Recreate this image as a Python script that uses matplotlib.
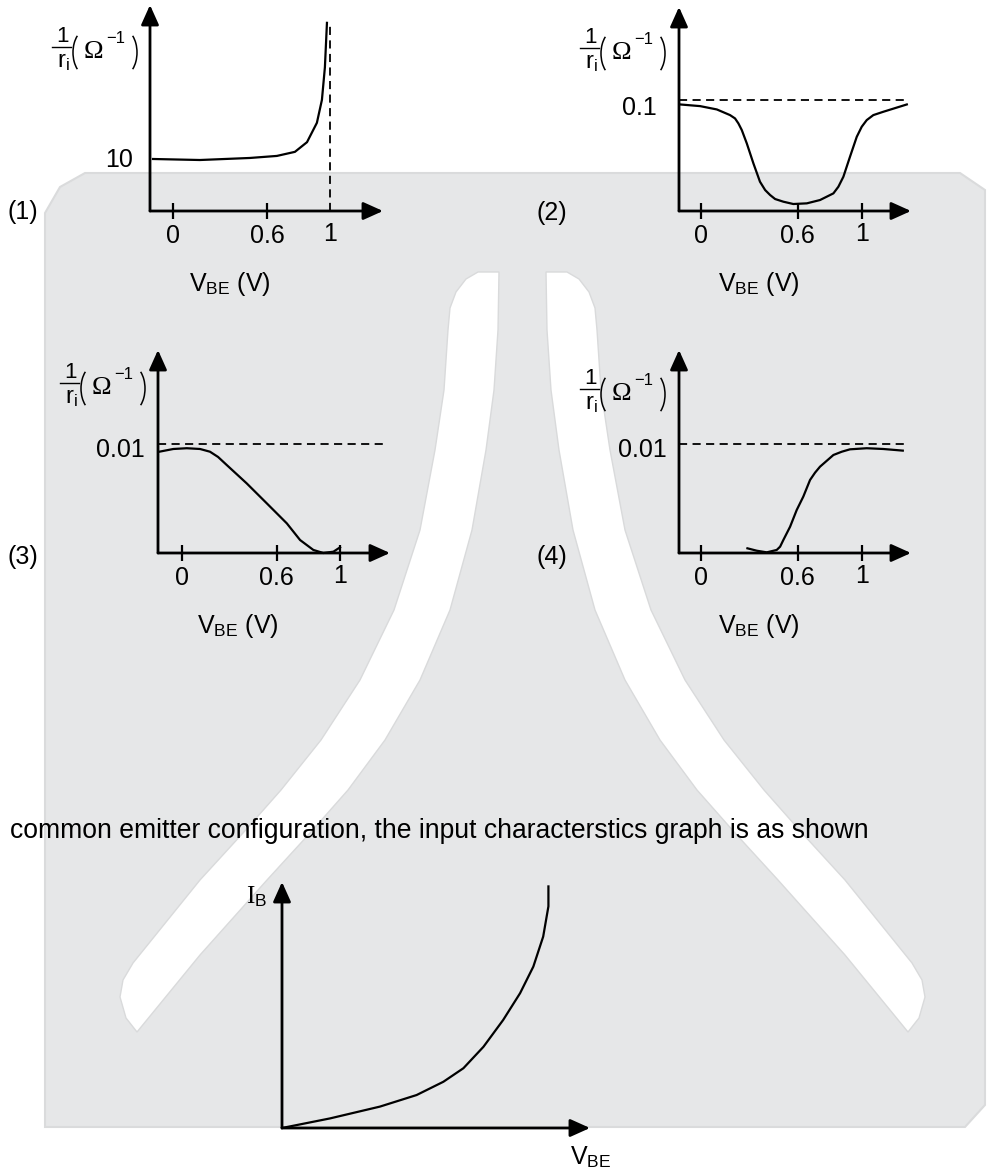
import numpy as np
import matplotlib
matplotlib.use('Agg')
import matplotlib.pyplot as plt
from matplotlib.patches import Polygon, Arc

plt.rcParams['font.family'] = ['Liberation Sans', 'DejaVu Sans']
plt.rcParams['mathtext.fontset'] = 'custom'
plt.rcParams['mathtext.rm'] = 'Liberation Serif'
plt.rcParams['mathtext.sf'] = 'Liberation Sans'
plt.rcParams['mathtext.it'] = 'Liberation Serif:italic'

# ---- values ----
# (1) 1/ri vs VBE, rises sharply towards 1 V
v1 = [-0.127, 0.172, 0.49, 0.662, 0.777, 0.854, 0.917, 0.949, 0.968, 0.981]
g1 = [10.2, 10.0, 10.4, 10.8, 11.6, 13.5, 17.3, 21.8, 28.2, 36.9]
# (2) dip to ~0 around 0.6 V
v2 = [-0.130, -0.006, 0.098, 0.180, 0.211, 0.232, 0.253, 0.284, 0.325, 0.366,
      0.398, 0.429, 0.460, 0.511, 0.573, 0.657, 0.739, 0.822, 0.853, 0.884,
      0.925, 0.967, 0.998, 1.029, 1.070, 1.132, 1.278]
g2 = [0.0961, 0.0946, 0.0916, 0.0865, 0.0835, 0.079, 0.073, 0.061, 0.043, 0.0264,
      0.0189, 0.0144, 0.0108, 0.0084, 0.0063, 0.0069, 0.0099, 0.0159, 0.0219, 0.0309,
      0.0489, 0.0669, 0.076, 0.082, 0.0865, 0.0895, 0.0961]
# (3) falls from 0.01 to 0
v3 = [-0.144, -0.055, 0.030, 0.114, 0.177, 0.228, 0.283, 0.409, 0.536, 0.663,
      0.747, 0.831, 0.894, 0.958, 1.0]
g3 = [0.00929, 0.00954, 0.00961, 0.00954, 0.00929, 0.00881, 0.00807, 0.00639,
      0.00456, 0.00272, 0.00119, 0.00028, 0.0, 0.00012, 0.00052]
# (4) rises from 0 to 0.01
v4 = [0.288, 0.346, 0.408, 0.470, 0.491, 0.511, 0.553, 0.594, 0.635, 0.677,
      0.708, 0.739, 0.822, 0.874, 0.925, 1.029, 1.132, 1.253]
g4 = [0.00043, 0.00021, 0.00006, 0.00028, 0.00058, 0.00119, 0.00241, 0.00394,
      0.00517, 0.0067, 0.00737, 0.00792, 0.00899, 0.00929, 0.00951, 0.00961,
      0.00954, 0.00939]
# input characteristic IB vs VBE (arbitrary units)
vbe = [0.0, 0.156, 0.318, 0.437, 0.524, 0.589, 0.654, 0.718, 0.773, 0.816,
       0.848, 0.865, 0.865]
ib = [0.0, 0.039, 0.087, 0.134, 0.188, 0.243, 0.330, 0.439, 0.548, 0.656,
      0.778, 0.901, 0.982]

levels = [10, 0.1, 0.01, 0.01]
level_labels = ['10', '0.1', '0.01', '0.01']
tick_v = [0, 0.6, 1]
tick_labels = ['0', '0.6', '1']
caption = 'common emitter configuration, the input characterstics graph is as shown'

W, H = 990, 1173
fig = plt.figure(figsize=(W / 100, H / 100), dpi=100)

# background watermark (pixel coordinates, y down)
bg = fig.add_axes([0, 0, 1, 1])
bg.set_xlim(0, W)
bg.set_ylim(H, 0)
bg.axis('off')
grey = [(85, 173), (960, 173), (985, 190), (985, 1105), (965, 1127),
        (45, 1127), (45, 213), (60, 187)]
bg.add_patch(Polygon(grey, closed=True, fc='#e6e7e8', ec='#dadbdc', lw=1.5))
stripe = [(478, 272), (499, 272), (498, 330), (494, 390), (486, 450), (472, 530),
          (450, 610), (420, 680), (385, 740), (348, 790), (310, 833), (267, 880),
          (200, 955), (137, 1032), (126, 1018), (120, 997), (123, 980), (133, 963),
          (200, 880), (243, 833), (281, 790), (321, 740), (360, 680), (394, 610),
          (420, 530), (435, 450), (444, 390), (448, 330), (450, 308), (456, 292),
          (466, 279)]
bg.add_patch(Polygon(stripe, closed=True, fc='white', ec='#d9dadb', lw=1))
bg.add_patch(Polygon([(1045 - x, y) for x, y in stripe], closed=True,
                     fc='white', ec='#d9dadb', lw=1))

FS = 18


def ylabel(xr, yb):
    # 1/ri (Ohm^-1), xr = right edge, yb = fraction bar
    bg.text(xr - 75, yb - 5, '1', ha='center', va='baseline', fontsize=16)
    bg.plot([xr - 85, xr - 66], [yb, yb], color='black', lw=1)
    bg.text(xr - 74, yb + 21, r'r$_{\mathsf{i}}$', ha='center', va='baseline',
            fontsize=17)
    bg.add_patch(Arc((xr - 50, yb + 5.5), 28, 46, theta1=120, theta2=240,
                     color='black', lw=1.1))
    bg.text(xr - 44, yb + 11, '\u03a9', ha='center', va='baseline', fontsize=19,
            family='Liberation Serif')
    bg.text(xr - 21, yb - 4, '\u22121', ha='center', va='baseline', fontsize=12)
    bg.add_patch(Arc((xr - 14, yb + 5.5), 28, 46, theta1=-60, theta2=60,
                     color='black', lw=1.1))


def px_axes(left, right, bottom, top):
    ax = fig.add_axes([left / W, 1 - bottom / H, (right - left) / W, (bottom - top) / H])
    ax.patch.set_visible(False)
    for s in ax.spines.values():
        s.set_visible(False)
    return ax


def arrows(ax):
    for tip in [(1, 0), (0, 1)]:
        ax.annotate('', xy=tip, xytext=(0, 0), xycoords='axes fraction',
                    arrowprops=dict(arrowstyle='-|>,head_length=0.6,head_width=0.27',
                                    mutation_scale=20, lw=2, color='black',
                                    shrinkA=0, shrinkB=0))


def panel(box, xlim, ylim, v, g, level, level_lbl, lbl_gap, lbl_dy, ylab_pos,
          ticks, dash_h=True):
    ax = px_axes(*box)
    ax.set_xlim(xlim)
    ax.set_ylim(ylim)
    arrows(ax)
    ax.plot(v, g, color='black', lw=1.6, clip_on=False)
    if dash_h:
        ax.plot([xlim[0], xlim[1] - 0.025], [level, level], color='black',
                lw=1.3, ls=(0, (4.5, 3)))
    ax.set_xticks(ticks)
    ax.set_xticklabels([tick_labels[tick_v.index(t)] if t != 1 else '' for t in ticks],
                       fontsize=FS)
    ax.tick_params(axis='x', direction='inout', length=11, width=1.6, pad=4)
    ax.set_yticks([])
    ax.annotate('1', xy=(1, 0), xycoords=('data', 'axes fraction'),
                xytext=(0, -11), textcoords='offset pixels', ha='center',
                va='top', fontsize=FS)
    ax.annotate(level_lbl, xy=(0, level), xycoords=('axes fraction', 'data'),
                xytext=(-lbl_gap, -lbl_dy), textcoords='offset pixels',
                ha='right', va='center', fontsize=FS)
    ax.annotate(r'V$_{\mathsf{BE}}$ (V)', xy=(0, 0), xycoords='axes fraction',
                xytext=(80, -80), textcoords='offset pixels', ha='center',
                va='baseline', fontsize=FS)
    ylabel(*ylab_pos)
    return ax


ax1 = panel((150, 383, 211, 5), (-0.146, 1.338), (0, 40.4), v1, g1, levels[0],
            level_labels[0], 17, 0, (137, 47), [0, 0.6], dash_h=False)
ax1.plot([1, 1], [0, 36.5], color='black', lw=1.3, ls=(0, (4.5, 3)))
panel((679, 911, 211, 7), (-0.137, 1.304), (0, 0.184), v2, g2, levels[1],
      level_labels[1], 22, 8, (665, 48), tick_v)
panel((158, 390, 553, 350), (-0.152, 1.316), (0, 0.01862), v3, g3, levels[2],
      level_labels[2], 13, 6, (145, 383), tick_v)
panel((679, 911, 553, 350), (-0.137, 1.304), (0, 0.01862), v4, g4, levels[3],
      level_labels[3], 12, 6, (665, 389), tick_v)

for lbl, (x, y) in zip(['(1)', '(2)', '(3)', '(4)'],
                       [(23, 212), (552, 213), (23, 557), (552, 557)]):
    bg.text(x, y, lbl, ha='center', va='center', fontsize=FS)

bg.text(10, 838, caption, ha='left', va='baseline', fontsize=19.1)

ax5 = px_axes(282, 590, 1128, 882)
ax5.set_xlim(0, 1)
ax5.set_ylim(0, 1)
arrows(ax5)
ax5.set_xticks([])
ax5.set_yticks([])
ax5.plot(vbe, ib, color='black', lw=1.6, clip_on=False)
ax5.annotate(r'$\mathrm{I}_{\mathsf{B}}$', xy=(0, 1), xycoords='axes fraction',
             xytext=(-15, -15), textcoords='offset pixels', ha='right', va='center',
             fontsize=FS)
ax5.annotate(r'V$_{\mathsf{BE}}$', xy=(1, 0), xycoords='axes fraction',
             xytext=(-20, -36), textcoords='offset pixels', ha='left', va='baseline',
             fontsize=FS)

fig.savefig('out.png', dpi=100)
